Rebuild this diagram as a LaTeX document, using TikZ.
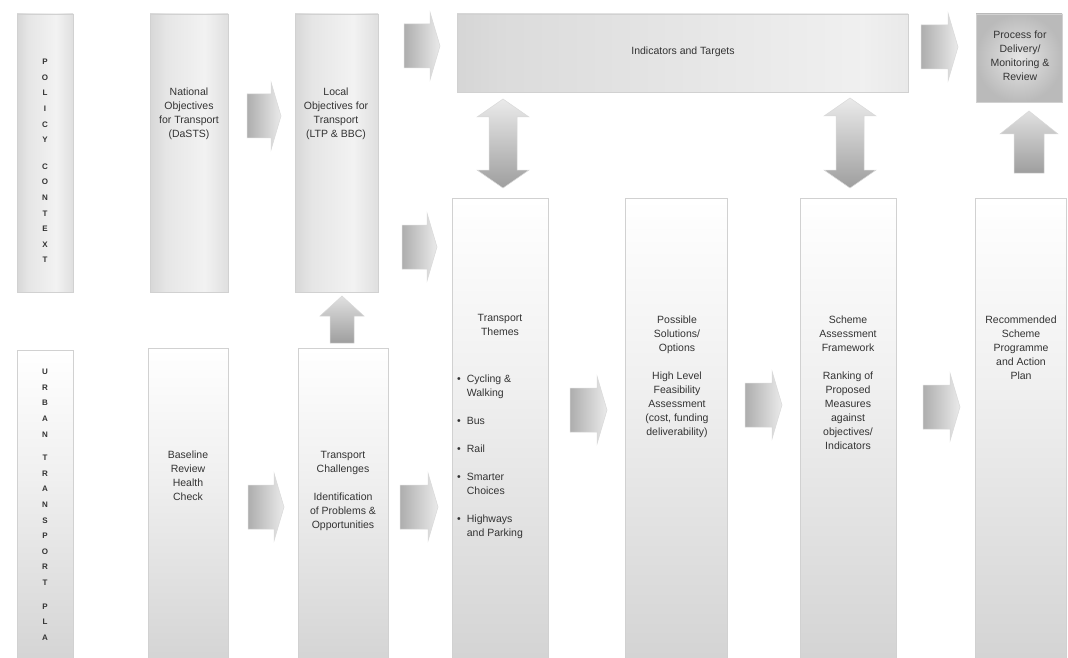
\documentclass[tikz,border=0pt]{standalone}
\usepackage{fontspec}
\setmainfont{Liberation Sans}
\pgfdeclarehorizontalshading{topbox}{100bp}{color(0bp)=(black!30); color(35bp)=(black!10); color(60bp)=(black!5); color(100bp)=(black!25)}
\pgfdeclareverticalshading{botbox}{100bp}{color(0bp)=(black!27); color(55bp)=(black!6); color(75bp)=(white); color(100bp)=(white)}
\pgfdeclarehorizontalshading{indbox}{100bp}{color(0bp)=(black!28); color(30bp)=(black!14); color(70bp)=(black!6); color(100bp)=(black!22)}
\newcommand\mybox[6]{\node[box,#6,minimum width={#4-#2},minimum height={#5-#3}] (#1) at (#2,#3) {};}
\newcommand\rarr[3]{\path[rarrow] (#1,{#3-22}) -- ({#2-10},{#3-22}) -- ({#2-10},{#3-34}) -- (#2,#3) -- ({#2-10},{#3+34}) -- ({#2-10},{#3+22}) -- (#1,{#3+22}) -- cycle;}
\newcommand\vdarr[3]{\path[vdarrow] (#1,#2) -- ({#1+26},{#2+18}) -- ({#1+14},{#2+18}) -- ({#1+14},{#3-18}) -- ({#1+26},{#3-18}) -- (#1,#3) -- ({#1-26},{#3-18}) -- ({#1-14},{#3-18}) -- ({#1-14},{#2+18}) -- ({#1-26},{#2+18}) -- cycle;}
\newcommand\uarr[6]{\path[uarrow] (#1,#2) -- ({#1+#4},{#2+#6}) -- ({#1+#5},{#2+#6}) -- ({#1+#5},#3) -- ({#1-#5},#3) -- ({#1-#5},{#2+#6}) -- ({#1-#4},{#2+#6}) -- cycle;}
\begin{document}
\begin{tikzpicture}[x=1pt,y=-1pt,
  box/.style={draw=black!18, line width=0.8pt, inner sep=0pt, outer sep=0pt, anchor=north west},
  topb/.style={shade, shading=topbox},
  botb/.style={shade, shading=botbox},
  indb/.style={shade, shading=indbox},
  procb/.style={inner color=black!10, outer color=black!27},
  txt/.style={inner sep=0pt, anchor=north, align=center, font=\fontsize{10.5}{14}\selectfont, text=black!80},
  vlet/.style={inner sep=0pt, anchor=north, align=center, font=\fontsize{8}{15.6}\selectfont\bfseries, text=black!80},
  rarrow/.style={draw=black!15, line width=0.5pt, left color=black!32, right color=black!8},
  vdarrow/.style={draw=black!15, line width=0.5pt, top color=black!8, bottom color=black!38},
  uarrow/.style={draw=black!15, line width=0.5pt, top color=black!12, bottom color=black!38}]
\useasboundingbox (0,0) rectangle (1068,658);
\clip (0,0) rectangle (1068,658);
\fill[white] (0,0) rectangle (1068,658);
% boxes
\mybox{pc}{17}{14}{73}{292}{topb}
\mybox{nat}{150}{14}{228}{292}{topb}
\mybox{loc}{295}{14}{378}{292}{topb}
\mybox{ind}{457}{14}{908}{92}{indb}
\mybox{proc}{976}{14}{1062}{102}{procb}
\mybox{utp}{17}{350}{73}{672}{botb}
\mybox{base}{148}{348}{228}{672}{botb}
\mybox{chal}{298}{348}{388}{672}{botb}
\mybox{them}{452}{198}{548}{672}{botb}
\mybox{sol}{625}{198}{727}{672}{botb}
\mybox{sch}{800}{198}{896}{672}{botb}
\mybox{rec}{975}{198}{1066}{672}{botb}
% texts
\node[vlet] (pct) at (45,59) {P\\O\\L\\I\\C\\Y\\[11pt]C\\O\\N\\T\\E\\X\\T};
\node[vlet] (utpt) at (45,369) {U\\R\\B\\A\\N\\[8pt]T\\R\\A\\N\\S\\P\\O\\R\\T\\[8pt]P\\L\\A};
\node[txt] (natt) at (189,88) {National\\Objectives\\for Transport\\(DaSTS)};
\node[txt] (loct) at (336,88) {Local\\Objectives for\\Transport\\(LTP \& BBC)};
\node[txt] (indt) at (683,47) {Indicators and Targets};
\node[txt] (proct) at (1020,31) {Process for\\Delivery/\\Monitoring \&\\Review};
\node[txt] (themt) at (500,314) {Transport\\Themes};
\node[txt, anchor=north west, align=left] (theml) at (457,372) {%
\begin{tabular}{@{}l@{\hspace{6pt}}l@{}}
• & Cycling \&\\ & Walking\\[14pt]
• & Bus\\[14pt]
• & Rail\\[14pt]
• & Smarter\\ & Choices\\[14pt]
• & Highways\\ & and Parking
\end{tabular}};
\node[txt] (solt) at (677,316) {Possible\\Solutions/\\Options\\[14pt]High Level\\Feasibility\\Assessment\\(cost, funding\\deliverability)};
\node[txt] (scht) at (848,316) {Scheme\\Assessment\\Framework\\[14pt]Ranking of\\Proposed\\Measures\\against\\objectives/\\Indicators};
\node[txt] (rect) at (1021,316) {Recommended\\Scheme\\Programme\\and Action\\Plan};
\node[txt] (baset) at (188,451) {Baseline\\Review\\Health\\Check};
\node[txt] (chalt) at (343,451) {Transport\\Challenges\\[14pt]Identification\\of Problems \&\\Opportunities};
% arrows
\rarr{247}{281}{116}
\rarr{404}{440}{46}
\rarr{921}{958}{47}
\rarr{402}{437}{247}
\rarr{400}{438}{507}
\rarr{248}{284}{507}
\rarr{570}{607}{410}
\rarr{745}{782}{405}
\rarr{923}{960}{407}
\vdarr{503}{99}{188}
\vdarr{850}{98}{188}
\uarr{1029}{111}{173}{29}{15}{23}
\uarr{342}{296}{343}{22}{12}{20}
\end{tikzpicture}
\end{document}
